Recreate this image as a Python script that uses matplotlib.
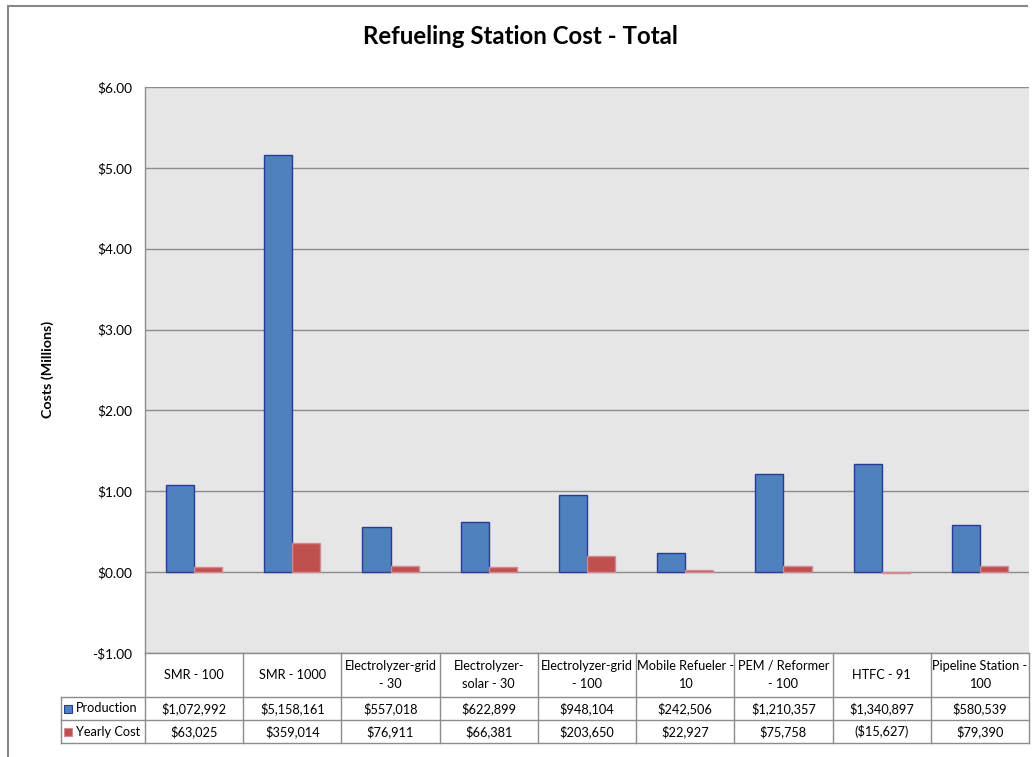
import numpy as np
import matplotlib
matplotlib.use("Agg")
import matplotlib.pyplot as plt
from matplotlib.transforms import blended_transform_factory
from matplotlib.patches import Rectangle
from matplotlib.lines import Line2D

plt.rcParams['font.family'] = ['Lato', 'DejaVu Sans']

# data
categories = ['SMR - 100', 'SMR - 1000', 'Electrolyzer-grid\n- 30', 'Electrolyzer-\nsolar - 30',
              'Electrolyzer-grid\n- 100', 'Mobile Refueler -\n10', 'PEM / Reformer\n- 100',
              'HTFC - 91', 'Pipeline Station -\n100']
production = [1072992, 5158161, 557018, 622899, 948104, 242506, 1210357, 1340897, 580539]
yearly_cost = [63025, 359014, 76911, 66381, 203650, 22927, 75758, -15627, 79390]
series_names = ['Production', 'Yearly Cost']
y_ticks = [-1, 0, 1, 2, 3, 4, 5, 6]

blue = '#4F81BD'
blue_edge = '#2A3A9A'
red = '#C0504D'
red_edge = '#D48A95'
grid_col = '#8C8C8C'


def money(v):
    if v < 0:
        return '(${:,})'.format(-v)
    return '${:,}'.format(v)


W, H = 1035, 757
fig = plt.figure(figsize=(W / 100, H / 100), dpi=100)

# plot area in pixels
left, right, top, bottom = 145, 1029, 87, 653
ax = fig.add_axes([left / W, 1 - bottom / H, (right - left) / W, (bottom - top) / H])
ax.set_facecolor('#E6E6E6')

x = np.arange(len(categories))
w = 0.286
ax.bar(x - w / 2, np.array(production) / 1e6, width=w, color=blue, edgecolor=blue_edge, linewidth=1, zorder=3)
ax.bar(x + w / 2, np.array(yearly_cost) / 1e6, width=w, color=red, edgecolor=red_edge, linewidth=1, zorder=3)

ax.set_xlim(-0.5, len(categories) - 0.5)
ax.set_ylim(-1, 6)
ax.set_yticks(y_ticks)
ax.set_yticklabels(['-$%.2f' % abs(t) if t < 0 else '$%.2f' % t for t in y_ticks], fontsize=9.8)
ax.tick_params(axis='y', length=0, pad=9)
ax.set_xticks([])
for t in y_ticks:
    ax.axhline(t, color=grid_col, lw=1, zorder=1)
for s in ['top', 'right', 'bottom']:
    ax.spines[s].set_visible(False)
ax.spines['left'].set_color(grid_col)
ax.spines['left'].set_linewidth(1)

# data table under the plot
tr = blended_transform_factory(ax.transData, ax.transAxes)
ph = bottom - top
r0 = 0
r1 = -44 / ph
r2 = -67 / ph
r3 = -90 / ph
leg_left = -0.5 - (left - 61) / ((right - left) / len(categories))
tcol = '#8C8C8C'
n = len(categories)
fs = 9.2


def hline(x0, x1, y):
    ax.add_line(Line2D([x0, x1], [y, y], transform=tr, color=tcol, lw=1, clip_on=False))


def vline(xx, y0, y1):
    ax.add_line(Line2D([xx, xx], [y0, y1], transform=tr, color=tcol, lw=1, clip_on=False))


hline(-0.5, n - 0.5, r0)
hline(leg_left, n - 0.5, r1)
hline(leg_left, n - 0.5, r2)
hline(leg_left, n - 0.5, r3)
vline(leg_left, r1, r3)
for i in range(n + 1):
    vline(i - 0.5, r0, r3)

for i, c in enumerate(categories):
    ax.text(i, (r0 + r1) / 2, c, transform=tr, ha='center', va='center', fontsize=fs,
            linespacing=1.6, clip_on=False)
    ax.text(i, (r1 + r2) / 2, money(production[i]), transform=tr, ha='center', va='center',
            fontsize=fs, clip_on=False)
    ax.text(i, (r2 + r3) / 2, money(yearly_cost[i]), transform=tr, ha='center', va='center',
            fontsize=fs, clip_on=False)

col_w = (right - left) / n
sq = 8 / ph
for (name, fc, ec, ya, yb) in [(series_names[0], blue, blue_edge, r1, r2),
                               (series_names[1], red, red_edge, r2, r3)]:
    yc = (ya + yb) / 2
    ax.add_patch(Rectangle((leg_left + 3 / col_w, yc - sq / 2), 8 / col_w, sq, transform=tr,
                           facecolor=fc, edgecolor=ec, lw=0.8, clip_on=False))
    ax.text(leg_left + 15 / col_w, yc, name, transform=tr, ha='left', va='center',
            fontsize=fs, clip_on=False)

# title and axis label
fig.text(520 / W, 1 - 36 / H, 'Refueling Station Cost - Total', ha='center', va='center',
         fontsize=17.3, fontweight='bold')
fig.text(48 / W, 1 - 369 / H, 'Costs (Millions)', ha='center', va='center', rotation=90,
         fontsize=10.3, fontweight='bold')

# chart border
fig.add_artist(Line2D([8 / W, 8 / W], [0, 1 - 6 / H], transform=fig.transFigure, color='#888888', lw=1.5))
fig.add_artist(Line2D([8 / W, 1027 / W], [1 - 6 / H, 1 - 6 / H], transform=fig.transFigure,
                      color='#888888', lw=1.5))

fig.savefig('out.png', dpi=100)
